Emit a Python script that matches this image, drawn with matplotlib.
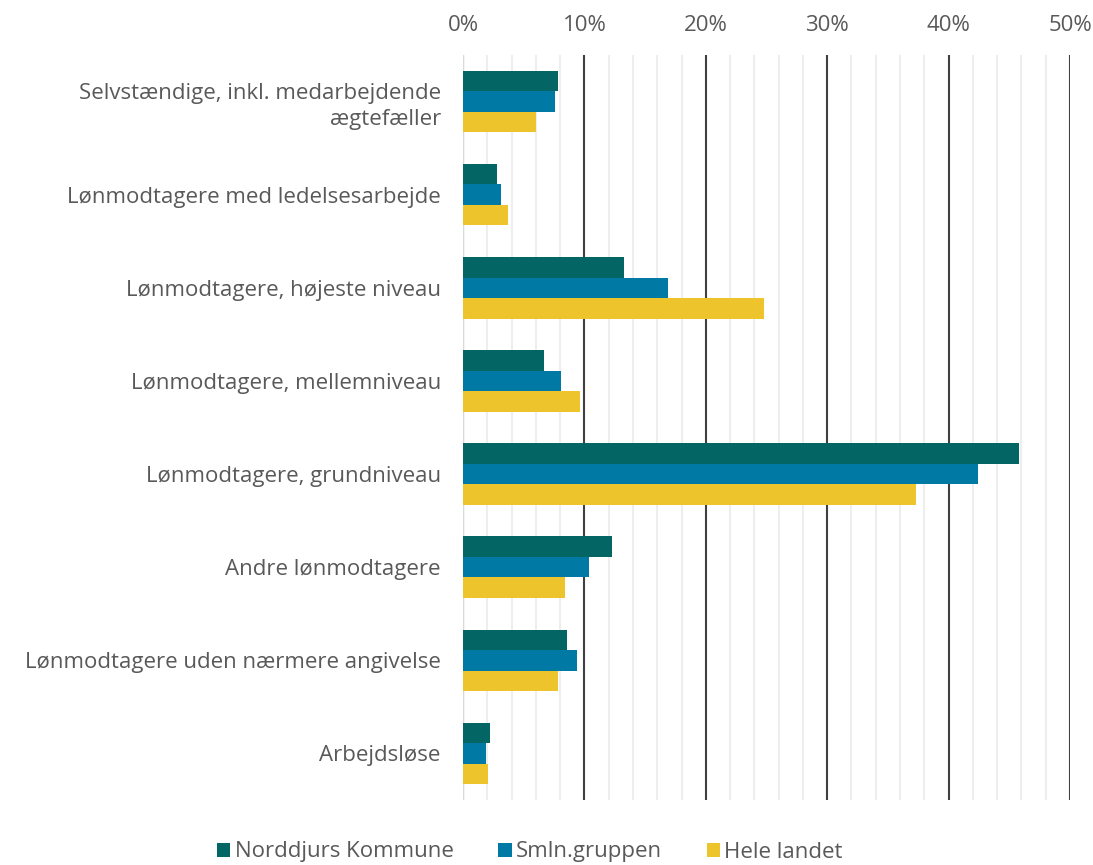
import numpy as np
import matplotlib
matplotlib.use("Agg")
import matplotlib.pyplot as plt
from matplotlib.ticker import MultipleLocator, PercentFormatter

plt.rcParams['font.family'] = ['Open Sans', 'DejaVu Sans']

categories = ["Selvstændige, inkl. medarbejdende\nægtefæller",
              "Lønmodtagere med ledelsesarbejde",
              "Lønmodtagere, højeste niveau",
              "Lønmodtagere, mellemniveau",
              "Lønmodtagere, grundniveau",
              "Andre lønmodtagere",
              "Lønmodtagere uden nærmere angivelse",
              "Arbejdsløse"]
norddjurs = [7.8, 2.8, 13.3, 6.7, 45.8, 12.3, 8.6, 2.2]
smln = [7.6, 3.1, 16.9, 8.1, 42.4, 10.4, 9.4, 1.9]
hele = [6.0, 3.7, 24.8, 9.6, 37.3, 8.4, 7.8, 2.1]
series_names = ["Norddjurs Kommune", "Smln.gruppen", "Hele landet"]
colors = ["#036564", "#0079A5", "#EEC42D"]
txt = "#595959"
fs = 16

fig = plt.figure(figsize=(10.93, 8.65), dpi=100)
ax = fig.add_axes([463/1093, 1-800/865, (1070-463)/1093, (800-55)/865])

y = np.arange(len(categories))
h = 0.22
for i, (vals, name, c) in enumerate(zip([norddjurs, smln, hele], series_names, colors)):
    ax.barh(y + (i-1)*h, vals, height=h, color=c, label=name, zorder=3)

ax.set_xlim(0, 50)
ax.set_ylim(len(categories)-0.5, -0.5)
ax.xaxis.set_major_locator(MultipleLocator(10))
ax.xaxis.set_minor_locator(MultipleLocator(2))
ax.xaxis.set_major_formatter(PercentFormatter(decimals=0))
ax.xaxis.tick_top()
ax.grid(axis='x', which='minor', color='#eeeeee', lw=1.5, zorder=0)
ax.grid(axis='x', which='major', color='#404040', lw=1.5, zorder=1)
ax.tick_params(axis='x', which='both', length=0, pad=14, labelsize=fs, labelcolor=txt)
ax.tick_params(axis='y', length=0, pad=16, labelsize=fs, labelcolor=txt)
ax.set_yticks(y)
ax.set_yticklabels(categories, ha='right', linespacing=1.3)
for s in ax.spines.values():
    s.set_visible(False)
ax.axvline(0, color='#d9d9d9', lw=1.5, zorder=2)

leg = fig.legend(loc='center', bbox_to_anchor=(530/1093, 1-852/865), ncol=3, frameon=False,
                 fontsize=fs, handlelength=0.6, handleheight=0.6, handletextpad=0.2,
                 columnspacing=2.0)
for t in leg.get_texts():
    t.set_color(txt)

fig.savefig("out.png", dpi=100)
